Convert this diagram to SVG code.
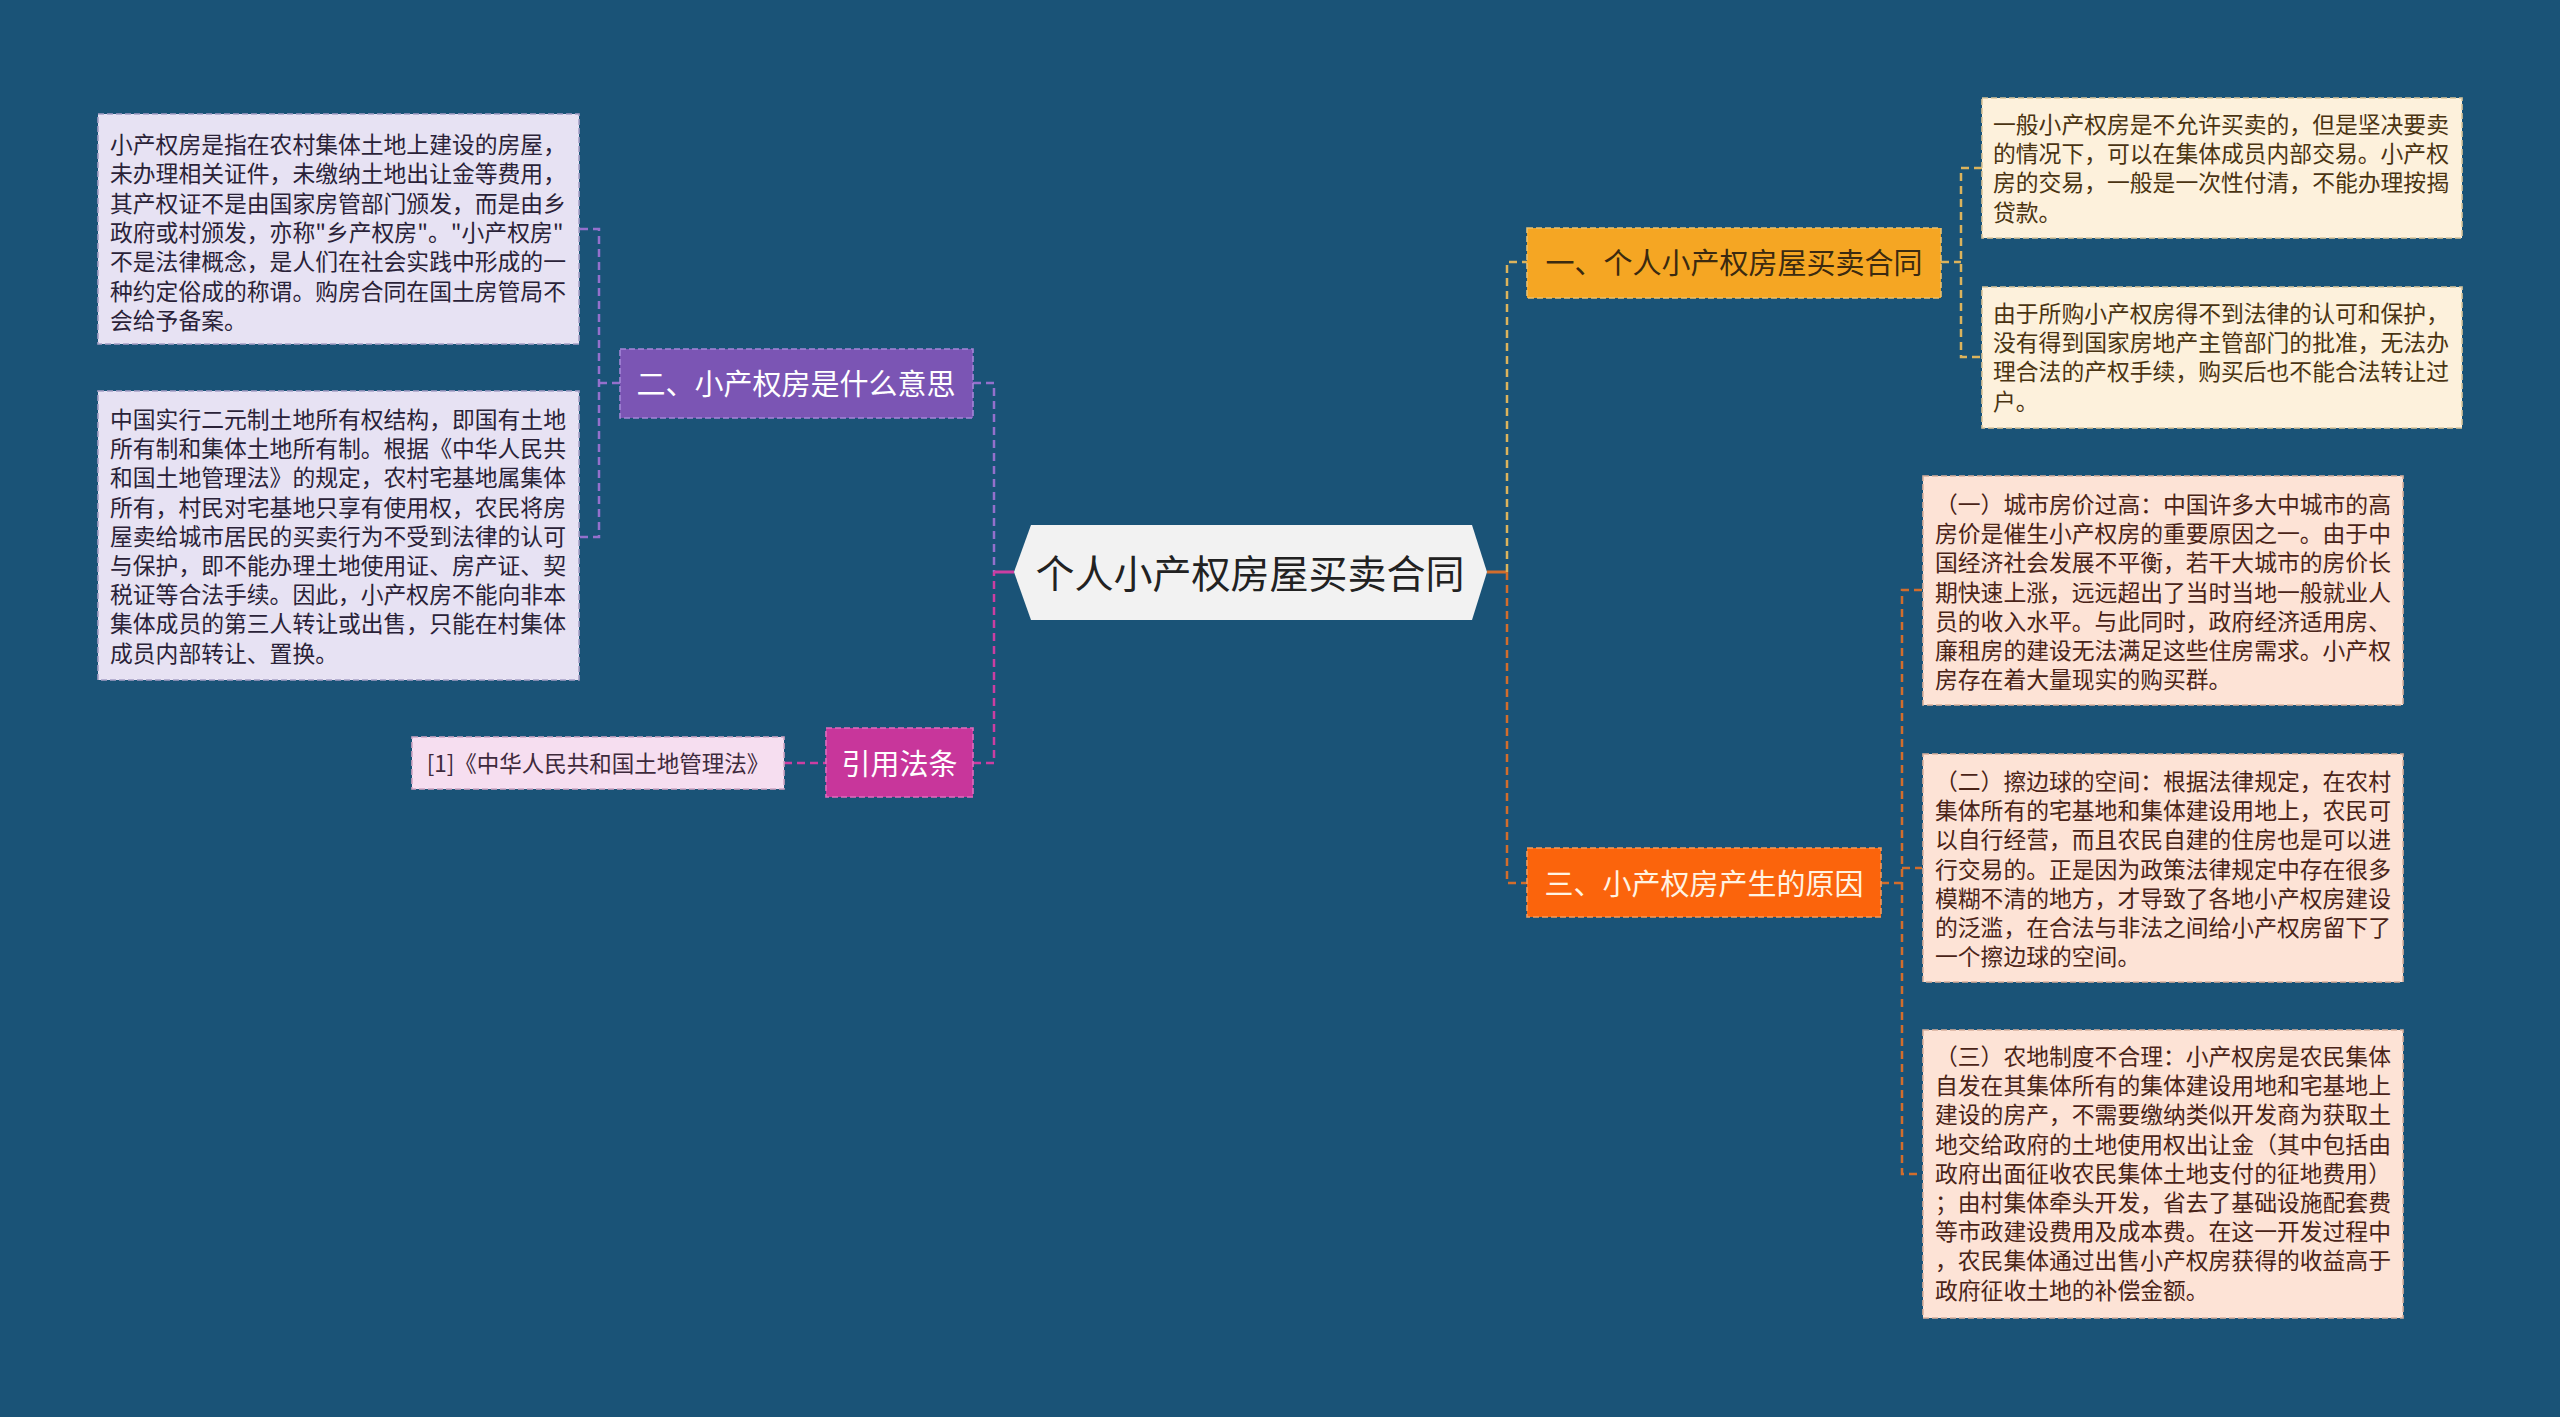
<svg xmlns="http://www.w3.org/2000/svg" width="2560" height="1417" viewBox="0 0 2560 1417">
<style>
.t{font-family:"Noto Sans CJK SC","Noto Sans",sans-serif;}
.body{font-size:22.8px;dominant-baseline:central;transform:translateY(-2px);}
.head{font-size:29px;dominant-baseline:central;text-anchor:middle;transform:translateY(-1px);}
.conn{fill:none;stroke-width:2.5;stroke-dasharray:8 5;}
.solid{fill:none;stroke-width:3;}
.lav{fill:#e7e2f3;stroke:#a7a0c6;stroke-width:1.6;stroke-dasharray:6 3;}
.cream{fill:#fdf1dc;stroke:#d9c59a;stroke-width:1.6;stroke-dasharray:6 3;}
.peach{fill:#fde3d6;stroke:#d9b09c;stroke-width:1.6;stroke-dasharray:6 3;}
.pink{fill:#f6def0;stroke:#cfa6c4;stroke-width:1.6;stroke-dasharray:6 3;}
.cp{stroke:#9470cc;}
.cm{stroke:#cc3ea2;}
.cy{stroke:#dcb35c;}
.co{stroke:#d26d2c;}
</style>
<rect width="2560" height="1417" fill="#1a5377"/>

<g id="connectors">
  <path class="conn cp" d="M620 383 H599"/>
  <path class="conn cp" d="M580 229 H599 V537 H580"/>
  <path class="conn cp" d="M973 383 H994 V572"/>
  <path class="conn cm" d="M973 763 H994 V572"/>
  <path class="conn cm" d="M784 763 H826"/>
  <path class="solid cm" d="M994 572 H1014"/>
  <path class="solid co" d="M1487 572 H1507"/>
  <path class="conn cy" d="M1507 572 V262 H1527"/>
  <path class="conn co" d="M1507 572 V883 H1527"/>
  <path class="conn cy" d="M1941 262 H1961"/>
  <path class="conn cy" d="M1982 168 H1961 V357 H1982"/>
  <path class="conn co" d="M1881 883 H1902"/>
  <path class="conn co" d="M1922 590 H1902 V1174 H1922"/>
  <path class="conn co" d="M1902 868 H1922"/>
</g>

<g id="root">
  <polygon points="1014,572 1031,525 1472,525 1487,572 1472,620 1031,620" fill="#f2f2f2"/>
  <text class="t" x="1250" y="571" font-size="39" text-anchor="middle" dominant-baseline="central" fill="#222">个人小产权房屋买卖合同</text>
</g>

<g id="n2">
  <rect x="620" y="349" width="353" height="69" fill="#7b55b4" stroke="#a486d8" stroke-width="1.6" stroke-dasharray="6 3"/>
  <text class="t head" x="796" y="383" fill="#ffffff">二、小产权房是什么意思</text>
</g>

<g id="n2a">
  <rect class="lav" x="98" y="114" width="481" height="230"/>
  <text class="t body" fill="#2a2238">
    <tspan x="110" y="145">小产权房是指在农村集体土地上建设的房屋，</tspan>
    <tspan x="110" y="174.3">未办理相关证件，未缴纳土地出让金等费用，</tspan>
    <tspan x="110" y="203.6">其产权证不是由国家房管部门颁发，而是由乡</tspan>
    <tspan x="110" y="232.9">政府或村颁发，亦称"乡产权房"。"小产权房"</tspan>
    <tspan x="110" y="262.2">不是法律概念，是人们在社会实践中形成的一</tspan>
    <tspan x="110" y="291.5">种约定俗成的称谓。购房合同在国土房管局不</tspan>
    <tspan x="110" y="320.8">会给予备案。</tspan>
  </text>
</g>

<g id="n2b">
  <rect class="lav" x="98" y="391" width="481" height="289"/>
  <text class="t body" fill="#2a2238">
    <tspan x="110" y="420">中国实行二元制土地所有权结构，即国有土地</tspan>
    <tspan x="110" y="449.2">所有制和集体土地所有制。根据《中华人民共</tspan>
    <tspan x="110" y="478.4">和国土地管理法》的规定，农村宅基地属集体</tspan>
    <tspan x="110" y="507.6">所有，村民对宅基地只享有使用权，农民将房</tspan>
    <tspan x="110" y="536.8">屋卖给城市居民的买卖行为不受到法律的认可</tspan>
    <tspan x="110" y="566">与保护，即不能办理土地使用证、房产证、契</tspan>
    <tspan x="110" y="595.2">税证等合法手续。因此，小产权房不能向非本</tspan>
    <tspan x="110" y="624.4">集体成员的第三人转让或出售，只能在村集体</tspan>
    <tspan x="110" y="653.6">成员内部转让、置换。</tspan>
  </text>
</g>

<g id="n4">
  <rect x="826" y="728" width="147" height="69" fill="#c8369b" stroke="#e06cbe" stroke-width="1.6" stroke-dasharray="6 3"/>
  <text class="t head" x="899.5" y="763" fill="#ffffff">引用法条</text>
</g>

<g id="n4a">
  <rect class="pink" x="412" y="737" width="372" height="52"/>
  <text class="t" x="598" y="762" font-size="22.5" text-anchor="middle" dominant-baseline="central" fill="#3e2a3c">[1]《中华人民共和国土地管理法》</text>
</g>

<g id="n1">
  <rect x="1527" y="228" width="414" height="70" fill="#f5a623" stroke="#e8c070" stroke-width="1.6" stroke-dasharray="6 3"/>
  <text class="t head" x="1734" y="262" fill="#3b2a10">一、个人小产权房屋买卖合同</text>
</g>

<g id="n1a">
  <rect class="cream" x="1982" y="98" width="480" height="140"/>
  <text class="t body" fill="#4a3412">
    <tspan x="1993" y="125">一般小产权房是不允许买卖的，但是坚决要卖</tspan>
    <tspan x="1993" y="154.2">的情况下，可以在集体成员内部交易。小产权</tspan>
    <tspan x="1993" y="183.4">房的交易，一般是一次性付清，不能办理按揭</tspan>
    <tspan x="1993" y="212.6">贷款。</tspan>
  </text>
</g>

<g id="n1b">
  <rect class="cream" x="1982" y="287" width="480" height="141"/>
  <text class="t body" fill="#4a3412">
    <tspan x="1993" y="314">由于所购小产权房得不到法律的认可和保护，</tspan>
    <tspan x="1993" y="343.2">没有得到国家房地产主管部门的批准，无法办</tspan>
    <tspan x="1993" y="372.4">理合法的产权手续，购买后也不能合法转让过</tspan>
    <tspan x="1993" y="401.6">户。</tspan>
  </text>
</g>

<g id="n3">
  <rect x="1527" y="848" width="354" height="69" fill="#fb640c" stroke="#f29a5c" stroke-width="1.6" stroke-dasharray="6 3"/>
  <text class="t head" x="1704" y="883" fill="#fff3e2">三、小产权房产生的原因</text>
</g>

<g id="n3a">
  <rect class="peach" x="1923" y="476" width="480" height="229"/>
  <text class="t body" fill="#4a2418">
    <tspan x="1935" y="505">（一）城市房价过高：中国许多大中城市的高</tspan>
    <tspan x="1935" y="534.2">房价是催生小产权房的重要原因之一。由于中</tspan>
    <tspan x="1935" y="563.4">国经济社会发展不平衡，若干大城市的房价长</tspan>
    <tspan x="1935" y="592.6">期快速上涨，远远超出了当时当地一般就业人</tspan>
    <tspan x="1935" y="621.8">员的收入水平。与此同时，政府经济适用房、</tspan>
    <tspan x="1935" y="651">廉租房的建设无法满足这些住房需求。小产权</tspan>
    <tspan x="1935" y="680.2">房存在着大量现实的购买群。</tspan>
  </text>
</g>

<g id="n3b">
  <rect class="peach" x="1923" y="754" width="480" height="228"/>
  <text class="t body" fill="#4a2418">
    <tspan x="1935" y="782">（二）擦边球的空间：根据法律规定，在农村</tspan>
    <tspan x="1935" y="811.2">集体所有的宅基地和集体建设用地上，农民可</tspan>
    <tspan x="1935" y="840.4">以自行经营，而且农民自建的住房也是可以进</tspan>
    <tspan x="1935" y="869.6">行交易的。正是因为政策法律规定中存在很多</tspan>
    <tspan x="1935" y="898.8">模糊不清的地方，才导致了各地小产权房建设</tspan>
    <tspan x="1935" y="928">的泛滥，在合法与非法之间给小产权房留下了</tspan>
    <tspan x="1935" y="957.2">一个擦边球的空间。</tspan>
  </text>
</g>

<g id="n3c">
  <rect class="peach" x="1923" y="1030" width="480" height="288"/>
  <text class="t body" fill="#4a2418">
    <tspan x="1935" y="1057">（三）农地制度不合理：小产权房是农民集体</tspan>
    <tspan x="1935" y="1086.2">自发在其集体所有的集体建设用地和宅基地上</tspan>
    <tspan x="1935" y="1115.4">建设的房产，不需要缴纳类似开发商为获取土</tspan>
    <tspan x="1935" y="1144.6">地交给政府的土地使用权出让金（其中包括由</tspan>
    <tspan x="1935" y="1173.8">政府出面征收农民集体土地支付的征地费用）</tspan>
    <tspan x="1935" y="1203">；由村集体牵头开发，省去了基础设施配套费</tspan>
    <tspan x="1935" y="1232.2">等市政建设费用及成本费。在这一开发过程中</tspan>
    <tspan x="1935" y="1261.4">，农民集体通过出售小产权房获得的收益高于</tspan>
    <tspan x="1935" y="1290.6">政府征收土地的补偿金额。</tspan>
  </text>
</g>
</svg>
